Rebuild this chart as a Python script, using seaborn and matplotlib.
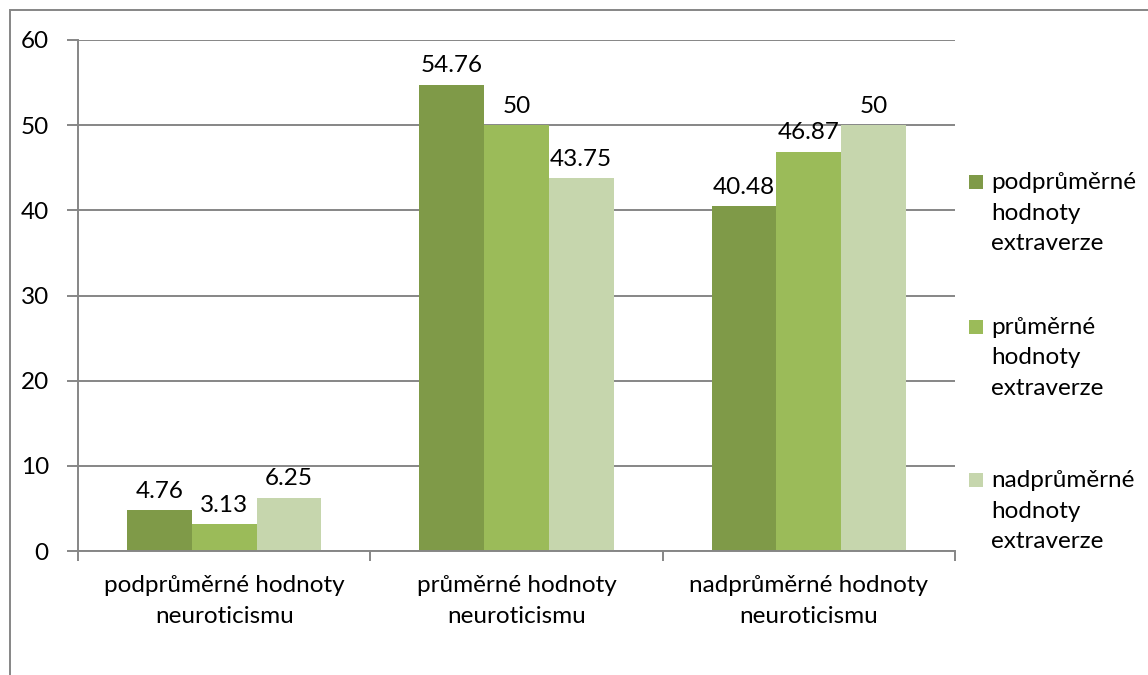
import matplotlib
matplotlib.use("Agg")
import matplotlib.pyplot as plt
from matplotlib.patches import Rectangle
import seaborn as sns
import pandas as pd

# Neuroticism groups on the x axis, extraversion groups as bar series
neuro_groups = ["podprůměrné hodnoty\nneuroticismu",
                "průměrné hodnoty\nneuroticismu",
                "nadprůměrné hodnoty\nneuroticismu"]
extra_groups = ["podprůměrné\nhodnoty\nextraverze",
                "průměrné\nhodnoty\nextraverze",
                "nadprůměrné\nhodnoty\nextraverze"]
values_podprumerne = [4.76, 54.76, 40.48]
values_prumerne = [3.13, 50, 46.87]
values_nadprumerne = [6.25, 43.75, 50]
y_ticks = [0, 10, 20, 30, 40, 50, 60]

colors = ["#7F9A48", "#9BBB59", "#C6D6AD"]
grid_color = "#868686"
FS = 17.5

series = [values_podprumerne, values_prumerne, values_nadprumerne]
rows = []
for eg, vals in zip(extra_groups, series):
    for ng, v in zip(neuro_groups, vals):
        rows.append({"neuro": ng, "extra": eg, "value": v})
df = pd.DataFrame(rows)

sns.set_theme(style="white")
plt.rcParams["font.family"] = ["Lato", "DejaVu Sans"]

W, H = 1148, 675
fig = plt.figure(figsize=(W / 100, H / 100), dpi=100)
ax = fig.add_axes([78 / W, 1 - 551 / H, (955 - 78) / W, (551 - 40) / H])

sns.barplot(data=df, x="neuro", y="value", hue="extra", order=neuro_groups,
            hue_order=extra_groups, palette=colors, saturation=1,
            width=0.664, linewidth=0, legend=False, ax=ax)

for cont, vals in zip(ax.containers, series):
    ax.bar_label(cont, labels=[f"{v:g}" for v in vals], padding=6,
                 fontsize=FS, color="black")

ax.set_xlim(-0.5, 2.5)
ax.set_ylim(0, 60)
ax.set_yticks(y_ticks)
ax.set_xlabel("")
ax.set_ylabel("")
ax.yaxis.grid(True, color=grid_color, linewidth=1.4)
ax.set_axisbelow(True)
for side in ["top", "right"]:
    ax.spines[side].set_visible(False)
for side in ["left", "bottom"]:
    ax.spines[side].set_color(grid_color)
    ax.spines[side].set_linewidth(1.4)

ax.tick_params(axis="y", length=8, width=1.4, color=grid_color, pad=13,
               labelsize=FS, labelcolor="black", left=True)
ax.set_xticks([0, 1, 2])
ax.set_xticklabels(neuro_groups)
ax.set_xticks([-0.5, 0.5, 1.5, 2.5], minor=True)
ax.tick_params(axis="x", which="major", length=0, pad=17.5, labelsize=FS,
               labelcolor="black")
ax.tick_params(axis="x", which="minor", length=7, width=1.4, color=grid_color,
               bottom=True)
for lbl in ax.get_xticklabels():
    lbl.set_linespacing(1.55)

# Legend: colour squares aligned with the first line of each entry
legend_first_lines = [182, 327, 480]
line_step = 31
for col, lab, yc in zip(colors, extra_groups, legend_first_lines):
    fig.patches.append(Rectangle((969 / W, 1 - (yc + 7) / H), 14 / W, 14 / H,
                                 transform=fig.transFigure, facecolor=col,
                                 edgecolor="none"))
    fig.text(991 / W, 1 - (yc + line_step) / H, lab, fontsize=FS,
             va="center", ha="left", linespacing=1.53, color="black")

# Chart area frame
fig.patches.append(Rectangle((9.5 / W, -0.05), 1.2, 1 - 10 / H + 0.05,
                             transform=fig.transFigure, facecolor="none",
                             edgecolor=grid_color, linewidth=1.4))

fig.savefig("out.png", dpi=100, facecolor="white")
